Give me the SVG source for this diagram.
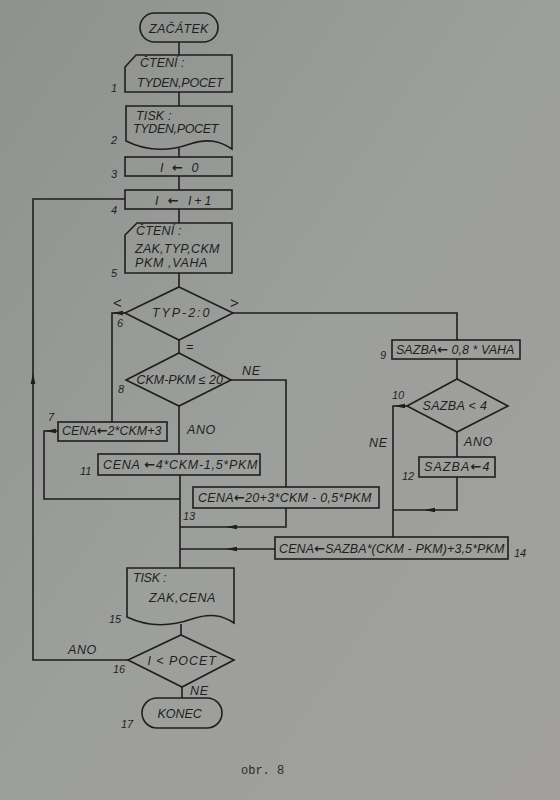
<svg xmlns="http://www.w3.org/2000/svg" width="560" height="800" viewBox="0 0 560 800">
<defs>
<linearGradient id="bg" x1="0" y1="0" x2="1" y2="1">
<stop offset="0" stop-color="#8f918e"/>
<stop offset="0.5" stop-color="#9d9f9c"/>
<stop offset="1" stop-color="#a1a09d"/>
</linearGradient>
<path id="ah" d="M0,0 L11,-2.3 L11,2.3 Z"/>
<style>
.s{fill:none;stroke:#1e1e1e;stroke-width:1.6;stroke-linejoin:miter}
.c{fill:none;stroke:#1e1e1e;stroke-width:1.6}
.a{fill:#1e1e1e}
.t{font-family:"Liberation Sans","DejaVu Sans",sans-serif;font-style:italic;font-size:12.5px;fill:#1f1f1f;letter-spacing:0.6px}
.ar{font-family:"DejaVu Sans",sans-serif;font-style:normal;font-weight:bold;font-size:13px}
.m{text-anchor:middle}
.n{font-family:"Liberation Sans","DejaVu Sans",sans-serif;font-style:italic;font-size:11px;fill:#1f1f1f}
.lg{font-family:"Liberation Sans","DejaVu Sans",sans-serif;font-size:15px;fill:#1f1f1f}
.cap{font-family:"Liberation Mono","DejaVu Sans Mono",monospace;font-size:12px;fill:#2a2a2a}
</style>
</defs>
<rect width="560" height="800" fill="url(#bg)"/>

<g id="connectors">
<path class="c" d="M179,42V55M179,92V106M179,148V157M179,176V190M179,209V223M179,273V287M179,340V353M179,406V454M180,475V568M181,624V635M182,687V698"/>
<path class="c" d="M233,313H457V340"/>
<path class="c" d="M125,313H112V422"/>
<path class="c" d="M58,431H44V499H180"/>
<path class="c" d="M231,380H286V487M286,508V527H180"/>
<path class="c" d="M457,359V379M457,432V457M457,477V510H393"/>
<path class="c" d="M407,406H393V537"/>
<path class="c" d="M275,549H180"/>
<path class="c" d="M128,660H33V199H125"/>
<use href="#ah" class="a" x="112" y="313"/>
<use href="#ah" class="a" x="45" y="431"/>
<use href="#ah" class="a" x="226" y="527"/>
<use href="#ah" class="a" x="226" y="549"/>
<use href="#ah" class="a" x="424" y="510"/>
<use href="#ah" class="a" x="394" y="406"/>
<use href="#ah" class="a" transform="translate(33,373) rotate(90)"/>
<text class="t" x="242" y="375">NE</text>
<text class="t" x="187" y="434">ANO</text>
<text class="t" x="369" y="447">NE</text>
<text class="t" x="464" y="446">ANO</text>
<text class="t" x="68" y="654">ANO</text>
<text class="t" x="190" y="695">NE</text>
<text class="lg" x="113" y="308">&lt;</text>
<text class="lg" x="230" y="308">&gt;</text>
<text class="t" x="186" y="351">=</text>
</g>

<g id="start">
<rect class="s" x="140" y="13" width="78" height="29" rx="14.5"/>
<text class="t m" x="179" y="33" textLength="60">ZAČÁTEK</text>
</g>

<g id="n1">
<path class="s" d="M136,55H232V92H125V67Z"/>
<text class="t" x="140" y="67" textLength="45">ČTENÍ :</text>
<text class="t" x="137" y="87" textLength="87">TYDEN,POCET</text>
<text class="n" x="111" y="92">1</text>
</g>

<g id="n2">
<path class="s" d="M126,106H232V149C220,141 208,138 190,144C170,151 148,152 126,141Z"/>
<text class="t" x="136" y="120" textLength="36">TISK :</text>
<text class="t" x="133" y="133" textLength="86">TYDEN,POCET</text>
<text class="n" x="111" y="144">2</text>
</g>

<g id="n3">
<rect class="s" x="125" y="157" width="107" height="19"/>
<text class="t" x="160" y="172" textLength="39">I <tspan class="ar">←</tspan> 0</text>
<text class="n" x="111" y="178">3</text>
</g>

<g id="n4">
<rect class="s" x="125" y="190" width="107" height="19"/>
<text class="t" x="155" y="205" textLength="57">I <tspan class="ar">←</tspan> I+1</text>
<text class="n" x="111" y="214">4</text>
</g>

<g id="n5">
<path class="s" d="M137,223H232V273H125V235Z"/>
<text class="t" x="136" y="235" textLength="46">ČTENÍ :</text>
<text class="t" x="135" y="253" textLength="85">ZAK,TYP,CKM</text>
<text class="t" x="135" y="267" textLength="73">PKM ,VAHA</text>
<text class="n" x="111" y="277">5</text>
</g>

<g id="n6">
<polygon class="s" points="179,287 233,313 179,340 125,313"/>
<text class="t m" x="181" y="317" textLength="58">TYP-2:0</text>
<text class="n" x="117" y="327">6</text>
</g>

<g id="n8">
<polygon class="s" points="179,353 231,380 179,406 126,380"/>
<text class="t m" x="180" y="384" textLength="87">CKM-PKM ≤ 20</text>
<text class="n" x="118" y="393">8</text>
</g>

<g id="n7">
<rect class="s" x="58" y="422" width="109" height="19"/>
<text class="t" x="62" y="435" textLength="100">CENA<tspan class="ar">←</tspan>2*CKM+3</text>
<text class="n" x="48" y="421">7</text>
</g>

<g id="n11">
<rect class="s" x="98" y="454" width="162" height="21"/>
<text class="t" x="103" y="469" textLength="155">CENA <tspan class="ar">←</tspan>4*CKM-1,5*PKM</text>
<text class="n" x="80" y="475">11</text>
</g>

<g id="n13">
<rect class="s" x="193" y="487" width="186" height="21"/>
<text class="t" x="198" y="502" textLength="174">CENA<tspan class="ar">←</tspan>20+3*CKM - 0,5*PKM</text>
<text class="n" x="183" y="520">13</text>
</g>

<g id="n9">
<rect class="s" x="392" y="340" width="128" height="19"/>
<text class="t" x="396" y="354" textLength="119">SAZBA<tspan class="ar">←</tspan> 0,8 * VAHA</text>
<text class="n" x="380" y="359">9</text>
</g>

<g id="n10">
<polygon class="s" points="457,379 508,406 457,432 407,406"/>
<text class="t m" x="455" y="410" textLength="65">SAZBA &lt; 4</text>
<text class="n" x="392" y="399">10</text>
</g>

<g id="n12">
<rect class="s" x="419" y="457" width="76" height="20"/>
<text class="t" x="424" y="471" textLength="66">SAZBA<tspan class="ar">←</tspan>4</text>
<text class="n" x="402" y="480">12</text>
</g>

<g id="n14">
<rect class="s" x="275" y="537" width="233" height="22"/>
<text class="t" x="279" y="553" textLength="226">CENA<tspan class="ar">←</tspan>SAZBA*(CKM - PKM)+3,5*PKM</text>
<text class="n" x="514" y="557">14</text>
</g>

<g id="n15">
<path class="s" d="M127,568H234V623C222,615 210,613 192,619C172,626 150,628 127,617Z"/>
<text class="t" x="133" y="582" textLength="34">TISK :</text>
<text class="t" x="149" y="602" textLength="67">ZAK,CENA</text>
<text class="n" x="109" y="623">15</text>
</g>

<g id="n16">
<polygon class="s" points="181,635 234,660 182,687 128,660"/>
<text class="t m" x="182" y="665" textLength="69">I &lt; POCET</text>
<text class="n" x="113" y="673">16</text>
</g>

<g id="end">
<rect class="s" x="142" y="698" width="80" height="30" rx="15"/>
<text class="t m" x="180" y="718" textLength="45">KONEC</text>
<text class="n" x="121" y="728">17</text>
</g>

<text class="cap" x="241" y="774">obr. 8</text>
</svg>
